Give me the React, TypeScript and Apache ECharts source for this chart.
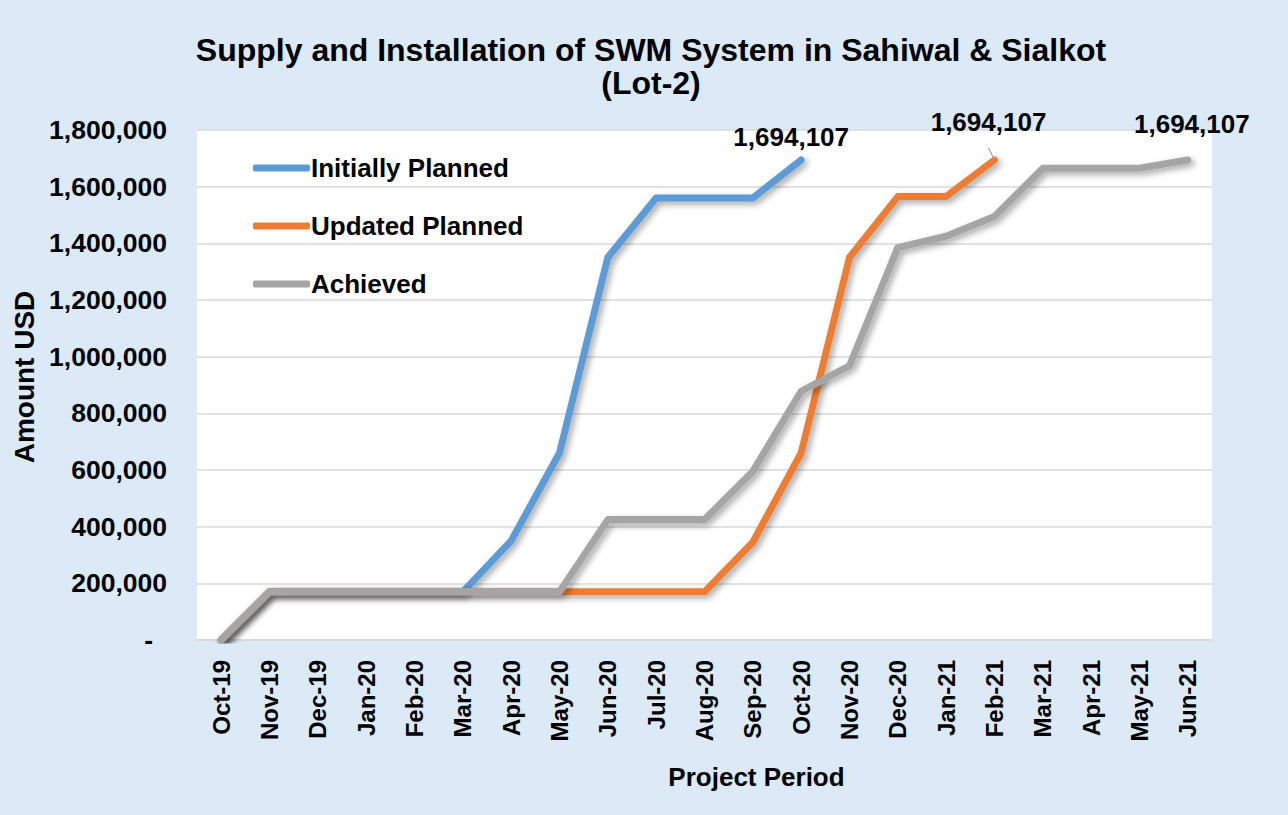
import React, { useEffect, useRef } from "react";
import * as echarts from "echarts";

const months = [
  "Oct-19", "Nov-19", "Dec-19", "Jan-20", "Feb-20", "Mar-20", "Apr-20", "May-20",
  "Jun-20", "Jul-20", "Aug-20", "Sep-20", "Oct-20", "Nov-20", "Dec-20", "Jan-21",
  "Feb-21", "Mar-21", "Apr-21", "May-21", "Jun-21",
];

const initiallyPlanned = [
  0, 170000, 170000, 170000, 170000, 170000, 350000, 660000, 1350000, 1560000,
  1560000, 1560000, 1694107,
];

const updatedPlanned = [
  0, 170000, 170000, 170000, 170000, 170000, 170000, 170000, 170000, 170000,
  170000, 345000, 660000, 1350000, 1565000, 1565000, 1694107,
];

const achieved = [
  0, 170000, 170000, 170000, 170000, 170000, 170000, 170000, 425000, 425000,
  425000, 595000, 878000, 968000, 1385000, 1425000, 1495000, 1665000, 1665000,
  1665000, 1694107,
];

const yTicks = { min: 0, max: 1800000, interval: 200000 };

const FONT = "'Liberation Sans', Arial, sans-serif";

function withEndLabel(values: number[], offset: number[], leader = false) {
  return values.map((v, i) =>
    i === values.length - 1
      ? {
          value: v,
          symbol: "circle",
          symbolSize: 2,
          label: {
            show: true,
            position: "top",
            offset,
            formatter: (p: any) => Number(p.value).toLocaleString("en-US"),
            fontSize: 26,
            fontWeight: "bold",
            fontFamily: FONT,
            color: "#000",
          },
          labelLine: leader
            ? { show: true, lineStyle: { color: "#a6a6a6", width: 1.2 } }
            : undefined,
        }
      : v
  );
}

export default function App() {
  const ref = useRef<HTMLDivElement>(null);

  useEffect(() => {
    if (!ref.current) return;
    const chart = echarts.init(ref.current, undefined, { renderer: "svg" });
    const shadow = {
      shadowColor: "rgba(0,0,0,0.35)",
      shadowBlur: 6,
      shadowOffsetX: 3,
      shadowOffsetY: 3,
    };
    chart.setOption({
      animation: false,
      backgroundColor: "#dce9f6",
      title: {
        text: "Supply and Installation of SWM System in Sahiwal & Sialkot\n(Lot-2)",
        left: 646,
        textAlign: "center",
        top: 28,
        textStyle: {
          fontSize: 32,
          fontWeight: "bold",
          fontFamily: FONT,
          color: "#000",
          lineHeight: 33,
        },
      },
      legend: {
        orient: "vertical",
        left: 248,
        top: 150,
        itemWidth: 57,
        itemHeight: 7,
        itemGap: 32,
        icon: "roundRect",
        textStyle: {
          fontSize: 26,
          fontWeight: "bold",
          fontFamily: FONT,
          color: "#000",
          padding: [0, 0, 0, -4],
        },
        data: ["Initially Planned", "Updated Planned", "Achieved"],
      },
      grid: {
        left: 197,
        right: 76,
        top: 130,
        bottom: 175,
        show: true,
        backgroundColor: "#ffffff",
        borderWidth: 0,
      },
      xAxis: {
        type: "category",
        data: months,
        boundaryGap: true,
        name: "Project Period",
        nameLocation: "middle",
        nameGap: 124,
        nameTextStyle: {
          fontSize: 26,
          fontWeight: "bold",
          fontFamily: FONT,
          color: "#000",
          padding: [0, 0, 0, 104],
        },
        axisLine: { show: true, lineStyle: { color: "#d9d9d9", width: 1.5 } },
        axisTick: { show: false },
        axisLabel: {
          rotate: 90,
          margin: 20,
          fontSize: 24,
          fontWeight: "bold",
          fontFamily: FONT,
          color: "#000",
          interval: 0,
        },
      },
      yAxis: {
        type: "value",
        min: yTicks.min,
        max: yTicks.max,
        interval: yTicks.interval,
        name: "Amount USD",
        nameLocation: "middle",
        nameGap: 155,
        nameTextStyle: {
          fontSize: 28,
          fontWeight: "bold",
          fontFamily: FONT,
          color: "#000",
          padding: [0, 0, 0, 16],
        },
        axisLine: { show: false },
        axisTick: { show: false },
        splitLine: { lineStyle: { color: "#d9d9d9", width: 1.5 } },
        axisLabel: {
          margin: 30,
          fontSize: 26.5,
          fontWeight: "bold",
          fontFamily: FONT,
          color: "#000",
          formatter: (v: number) =>
            v === 0 ? "{z|-}" : v.toLocaleString("en-US"),
          rich: {
            z: {
              fontSize: 26.5,
              fontWeight: "bold",
              fontFamily: FONT,
              color: "#000",
              padding: [0, 14, 0, 0],
            },
          },
        },
      },
      series: [
        {
          name: "Initially Planned",
          type: "line",
          data: withEndLabel(initiallyPlanned, [-10, -4]),
          symbol: "none",
          color: "#5b9bd5",
          lineStyle: { width: 7, cap: "round", join: "round", ...shadow },
          z: 2,
        },
        {
          name: "Updated Planned",
          type: "line",
          data: withEndLabel(updatedPlanned, [-6, -19], true),
          symbol: "none",
          color: "#ed7d31",
          lineStyle: { width: 7, cap: "round", join: "round", ...shadow },
          z: 3,
        },
        {
          name: "Achieved",
          type: "line",
          data: withEndLabel(achieved, [4, -17]),
          symbol: "none",
          color: "#a5a5a5",
          lineStyle: { width: 7, cap: "round", join: "round", ...shadow },
          z: 4,
        },
      ],
    });
    return () => chart.dispose();
  }, []);

  return (
    <div
      ref={ref}
      style={{ position: "fixed", left: 0, top: 0, width: 1288, height: 815 }}
    />
  );
}
